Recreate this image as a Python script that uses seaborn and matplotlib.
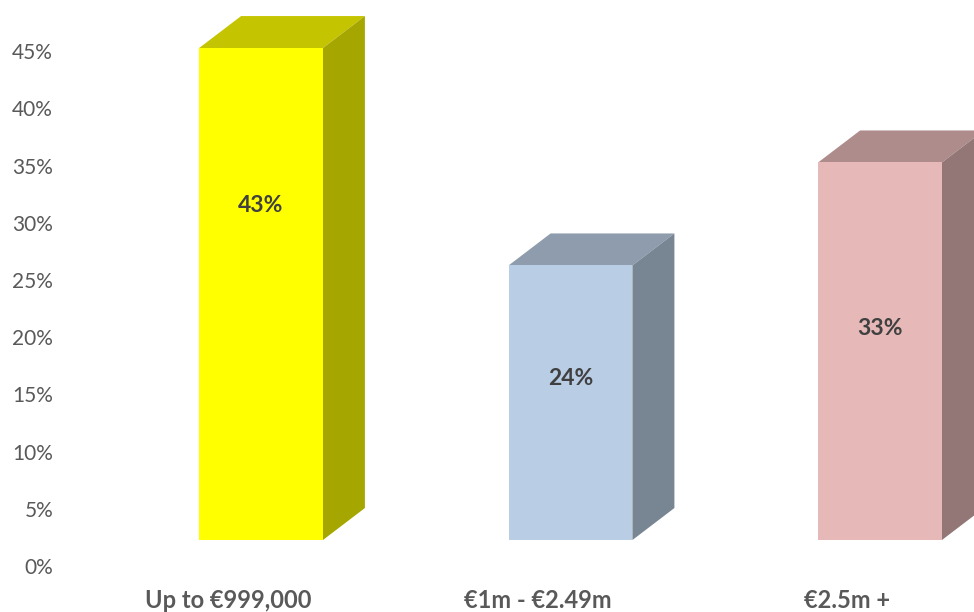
import numpy as np
import pandas as pd
import matplotlib
matplotlib.use("Agg")
import matplotlib.pyplot as plt
import matplotlib.transforms as mtransforms
from matplotlib.patches import Polygon
import seaborn as sns

# Data
categories = ["Up to €999,000", "€1m - €2.49m", "€2.5m +"]
shares = [0.43, 0.24, 0.33]
value_labels = ["43%", "24%", "33%"]
tick_values = [0.00, 0.05, 0.10, 0.15, 0.20, 0.25, 0.30, 0.35, 0.40, 0.45]
tick_labels = ["0%", "5%", "10%", "15%", "20%", "25%", "30%", "35%", "40%", "45%"]

# Styling
front_colors = ["#FFFF00", "#B9CDE5", "#E6B9B8"]
top_colors = ["#C4C400", "#8E9CAE", "#AE8C8B"]
side_colors = ["#A6A600", "#788593", "#927776"]
label_height_frac = [0.68, 0.59, 0.56]
floor_offset = 0.0227          # front face sits in front of the back wall
depth_px = (42, 32)            # 3D extrusion in pixels (right, up)

sns.set_theme(style="white")
plt.rcParams["font.family"] = ["Lato", "DejaVu Sans"]

W, H = 974, 612
fig = plt.figure(figsize=(W / 100, H / 100), dpi=100)
left_px, right_px, top_px, bottom_px = 60, 974, 0, 585
ax = fig.add_axes([left_px / W, (H - bottom_px) / H,
                   (right_px - left_px) / W, (bottom_px - top_px) / H])

df = pd.DataFrame({"category": categories, "share": shares})
sns.barplot(data=df, x="category", y="share", hue="category",
            palette=front_colors, saturation=1, width=0.4,
            legend=False, ax=ax, linewidth=0, zorder=3)

xlim = (-0.6494, 2.3037)
ylim = (-0.0393, 0.4720)
ax.set_xlim(*xlim)
ax.set_ylim(*ylim)

# convert the pixel depth into data units
ax_w_px = right_px - left_px
ax_h_px = bottom_px - top_px
dx = depth_px[0] * (xlim[1] - xlim[0]) / ax_w_px
dy = depth_px[1] * (ylim[1] - ylim[0]) / ax_h_px

for i, patch in enumerate(ax.patches):
    x0 = patch.get_x()
    w = patch.get_width()
    h = patch.get_height()
    x1 = x0 + w
    top = Polygon([(x0, h), (x1, h), (x1 + dx, h + dy), (x0 + dx, h + dy)],
                  closed=True, facecolor=top_colors[i], edgecolor="none",
                  zorder=2, clip_on=False)
    side = Polygon([(x1, 0), (x1 + dx, dy), (x1 + dx, h + dy), (x1, h)],
                   closed=True, facecolor=side_colors[i], edgecolor="none",
                   zorder=2, clip_on=False)
    ax.add_patch(top)
    ax.add_patch(side)
    ax.text(x0 + w / 2, h * label_height_frac[i], value_labels[i],
            ha="center", va="center", fontsize=16.5, fontweight="bold",
            color="#404040", zorder=5)

ax.set_yticks([v - floor_offset for v in tick_values])
ax.set_yticklabels(tick_labels)
ax.tick_params(axis="y", length=0, pad=5, labelsize=15, labelcolor="#595959")
ax.tick_params(axis="x", length=0, pad=3, labelsize=17, labelcolor="#595959")

# category labels sit on the floor in front of the bars, shifted left
shift = mtransforms.ScaledTranslation(-33 / 100, 0, fig.dpi_scale_trans)
for lab in ax.get_xticklabels():
    lab.set_fontweight("bold")
    lab.set_transform(lab.get_transform() + shift)

ax.set_xlabel("")
ax.set_ylabel("")
for s in ax.spines.values():
    s.set_visible(False)
ax.grid(False)

fig.savefig("out.png", dpi=100, facecolor="white")
